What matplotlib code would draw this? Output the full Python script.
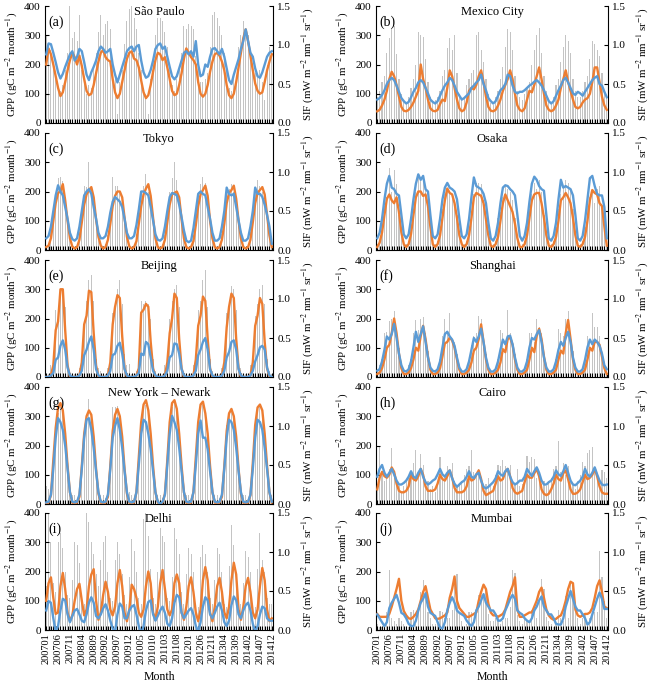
import numpy as np
import matplotlib
matplotlib.use("Agg")
import matplotlib.pyplot as plt

plt.rcParams['font.family'] = ['Liberation Serif', 'DejaVu Serif']
plt.rcParams['mathtext.fontset'] = 'stix'

tick_labels = ['200701', '200706', '200711', '200804', '200809', '200902', '200907',
               '200912', '201005', '201010', '201103', '201108', '201201', '201206',
               '201211', '201304', '201309', '201402', '201407', '201412']

cities = ['São Paulo', 'Mexico City', 'Tokyo', 'Osaka', 'Beijing', 'Shanghai',
          'New York – Newark', 'Cairo', 'Delhi', 'Mumbai']
letters = ['(a)', '(b)', '(c)', '(d)', '(e)', '(f)', '(g)', '(h)', '(i)', '(j)']

# ---------------- São Paulo ----------------
gpp_a = [200,255,235,200,160,120, 92,105,140,180,215,240,
         225,200,230,195,150,110, 95,100,130,170,210,240,
         250,225,215,210,150,105, 85,100,140,180,220,240,
         245,220,215,190,145,105, 85, 95,130,175,215,240,
         235,215,225,190,150,110, 95,100,130,170,220,255,
         240,225,215,200,140,100, 90,100,130,175,210,235,
         240,230,210,180,130, 95, 85,100,140,190,240,290,
         320,280,230,180,135,110,100,105,140,180,210,235]
sif_a = [0.88,1.02,1.01,0.90,0.78,0.65,0.57,0.63,0.72,0.80,0.88,0.92,
         0.80,0.85,0.95,0.92,0.78,0.62,0.55,0.65,0.72,0.80,0.92,0.98,
         0.95,0.90,0.92,0.95,0.75,0.62,0.52,0.62,0.72,0.82,0.92,0.96,
         0.98,0.92,0.98,1.00,0.80,0.65,0.58,0.60,0.68,0.80,0.95,1.00,
         1.02,0.95,0.98,0.85,0.72,0.60,0.56,0.60,0.70,0.80,0.90,0.92,
         0.88,0.92,0.85,1.05,0.75,0.60,0.62,0.75,0.72,0.85,0.95,0.96,
         0.92,0.88,0.95,0.85,0.70,0.55,0.50,0.62,0.72,0.82,0.95,1.05,
         1.20,1.05,0.90,0.85,0.70,0.60,0.58,0.65,0.75,0.85,0.90,0.92]
bar_a = [300,270,250,200,150,120,110,130,180,240,400,290,
         310,280,370,180,160,100,130,120,200,240,310,370,
         300,340,350,320,200,150, 30,140,180,270,350,390,
         400,360,320,240,180,120,100, 30,150,230,300,360,
         360,350,310,260,180,130,110,150,180,240,330,320,
         340,330,320,230,200,140,140,150,170,260,370,380,
         360,330,300,240,180,120,110,150,160,260,300,350,
         320,300,250,200,170,160,180,140, 80,200,260,240]

# ---------------- Mexico City ----------------
gpp_b = [ 40, 45, 60, 80,110,150,175,160,130, 90, 55, 42,
          40, 45, 55, 70, 90,110,200,150,120, 80, 50, 42,
          40, 45, 65, 80, 75,120,180,160,120, 80, 50, 40,
          45, 70,110,120,115,130,160,180,140, 90, 55, 42,
          40, 45, 60, 80,110,130,150,180,150,100, 60, 45,
          40, 50, 80,110,105,130,160,190,150,100, 60, 45,
          40, 45, 60, 80,120,150,180,140,110, 80, 55, 50,
          55, 70, 80, 85,100,140,190,190,140, 90, 60, 45]
sif_b = [0.30,0.32,0.36,0.42,0.50,0.55,0.58,0.55,0.48,0.40,0.32,0.28,
         0.25,0.27,0.33,0.40,0.45,0.52,0.55,0.52,0.45,0.38,0.30,0.27,
         0.25,0.28,0.35,0.42,0.48,0.52,0.58,0.55,0.48,0.40,0.35,0.30,
         0.32,0.35,0.38,0.45,0.48,0.52,0.55,0.62,0.50,0.42,0.32,0.28,
         0.25,0.28,0.35,0.42,0.45,0.50,0.62,0.60,0.48,0.40,0.38,0.40,
         0.40,0.42,0.45,0.48,0.50,0.53,0.55,0.52,0.48,0.42,0.35,0.28,
         0.25,0.28,0.35,0.42,0.48,0.55,0.58,0.52,0.45,0.38,0.36,0.40,
         0.38,0.35,0.40,0.45,0.50,0.55,0.58,0.60,0.50,0.48,0.40,0.33]
bar_b = [ 90,110,140,160,240,290,320,330,235,150,100, 80,
          70, 90,120,150,200,310,300,295,220,140, 90, 70,
          80, 90,110,160,180,255,290,250,300,170,100, 80,
          90,130,150,170,180,300,310,250,210,150,100, 70,
          60, 90,110,150,190,260,320,310,250,160,110, 90,
          80,100,120,140,200,250,300,325,240,160,110, 80,
          70, 90,130,150,210,260,300,280,240,150,110, 90,
          90,110,140,160,220,280,270,250,230,170,110, 90]

# ---------------- Tokyo ----------------
gpp_c = [ 10, 15, 40,100,160,195,200,225,170,100, 40, 12,
           5, 10, 35, 95,155,190,205,215,180,105, 45, 15,
           5, 10, 35, 90,150,185,200,200,180,110, 45, 12,
           5, 10, 30, 90,150,190,210,225,185,110, 40, 10,
           5, 10, 35, 95,155,190,195,200,180,105, 40, 10,
           5, 10, 30, 85,150,190,205,220,185,100, 40, 10,
           5, 10, 35, 90,160,195,205,220,175,100, 40, 10,
           5, 10, 35, 95,160,195,205,215,190,120, 50, 10]
sif_c = [0.15,0.18,0.30,0.50,0.70,0.83,0.75,0.70,0.55,0.40,0.22,0.14,
         0.12,0.15,0.30,0.50,0.70,0.75,0.78,0.72,0.55,0.40,0.22,0.15,
         0.15,0.18,0.30,0.48,0.62,0.68,0.65,0.62,0.55,0.40,0.22,0.15,
         0.15,0.18,0.32,0.52,0.75,0.75,0.73,0.70,0.55,0.38,0.20,0.13,
         0.12,0.15,0.30,0.50,0.68,0.73,0.72,0.70,0.58,0.42,0.25,0.12,
         0.10,0.12,0.28,0.50,0.72,0.75,0.72,0.70,0.55,0.40,0.22,0.12,
         0.12,0.15,0.30,0.50,0.80,0.72,0.70,0.72,0.55,0.38,0.22,0.12,
         0.12,0.15,0.30,0.50,0.80,0.72,0.72,0.68,0.58,0.45,0.30,0.08]
bar_c = [ 10, 20, 60,110,190,245,250,235,180,110, 50, 15,
          10, 15, 60,120,220,215,300,200,160,100, 40, 15,
          10, 20, 50,120,250,220,220,200,150, 90, 40, 15,
          10, 20, 55,120,200,220,260,200,180,110, 40, 15,
          10, 20, 50,110,200,245,300,240,170,100, 40, 15,
          10, 20, 50,120,200,225,250,230,160,100, 40, 15,
          10, 20, 55,120,200,210,225,200,150,100, 45, 15,
          10, 20, 60,120,210,240,220,200,170,110, 45, 10]

# ---------------- Osaka ----------------
gpp_d = [ 10, 25, 60,120,175,190,170,160,180,130, 60, 20,
          10, 20, 55,120,180,200,200,185,190,150, 80, 20,
          10, 20, 50,110,170,210,195,190,160,110, 50, 20,
          10, 20, 50,110,180,195,190,185,160,105, 50, 15,
          10, 20, 45,100,160,190,170,150,130, 90, 40, 10,
          10, 20, 50,110,170,190,195,195,160,110, 50, 15,
          10, 20, 45,100,170,180,195,180,160,110, 50, 15,
          10, 20, 45,100,170,205,195,190,160,150, 80, 15]
sif_d = [0.15,0.22,0.40,0.65,0.85,0.95,0.80,0.78,0.72,0.70,0.45,0.20,
         0.15,0.20,0.40,0.65,0.85,0.97,0.90,0.95,0.78,0.75,0.45,0.18,
         0.15,0.20,0.40,0.65,0.80,0.86,0.80,0.78,0.75,0.65,0.40,0.18,
         0.15,0.20,0.40,0.68,0.93,0.82,0.80,0.78,0.72,0.60,0.35,0.15,
         0.12,0.18,0.35,0.60,0.80,0.83,0.82,0.78,0.75,0.70,0.45,0.18,
         0.12,0.18,0.35,0.62,0.85,0.94,0.90,0.82,0.78,0.76,0.45,0.15,
         0.12,0.18,0.35,0.65,0.90,0.80,0.82,0.80,0.78,0.70,0.45,0.15,
         0.12,0.18,0.38,0.65,0.92,0.95,0.82,0.72,0.70,0.70,0.55,0.15]
bar_d = [ 20, 30, 90,150,180,280,200,275,225,120, 60, 30,
          20, 30, 80,140,200,250,245,250,215,140, 60, 25,
          20, 30, 80,140,190,205,200,190,170,120, 50, 20,
          20, 30, 80,130,190,230,230,225,170,110, 50, 20,
          20, 30,110,130,180,220,210,200,170,110, 50, 20,
          20, 30, 80,140,190,230,210,240,200,120, 50, 20,
          20, 30, 80,140,190,220,240,230,210,140, 60, 20,
          20, 30, 80,150,180,200,160,210,220,150, 60, 20]

# ---------------- Beijing ----------------
gpp_e = [  0,  0,  5, 40,160,190,300,300,160, 40,  0,  0,
           0,  0,  5, 50,180,210,295,290,150, 40,  0,  0,
           0,  0,  5, 50,180,240,280,270,140, 30,  0,  0,
           0,  0,  5, 30,220,230,250,240,120, 30,  0,  0,
           0,  0,  5, 50,150,200,285,270,130, 30,  0,  0,
           0,  0,  5, 60,175,210,275,260,130, 30,  0,  0,
           0,  0,  5, 50,170,240,285,270,130, 30,  0,  0,
           0,  0,  5, 50,175,210,270,250,120, 30,  0,  0]
sif_e = [0.00,0.00,0.02,0.05,0.22,0.25,0.40,0.47,0.35,0.12,0.02,0.00,
         0.00,0.00,0.02,0.08,0.28,0.35,0.45,0.52,0.35,0.10,0.02,0.00,
         0.00,0.00,0.02,0.08,0.28,0.30,0.40,0.44,0.30,0.10,0.02,0.00,
         0.00,0.00,0.02,0.05,0.30,0.28,0.45,0.42,0.25,0.08,0.02,0.00,
         0.00,0.00,0.02,0.08,0.25,0.28,0.43,0.42,0.30,0.10,0.02,0.00,
         0.00,0.00,0.02,0.08,0.28,0.35,0.45,0.50,0.35,0.10,0.02,0.00,
         0.00,0.00,0.02,0.08,0.25,0.32,0.45,0.47,0.35,0.10,0.02,0.00,
         0.00,0.00,0.02,0.08,0.20,0.28,0.38,0.40,0.35,0.12,0.02,0.00]
bar_e = [  5, 10, 40, 60,230,200,300,295,240, 60, 20,  5,
          10, 10, 30, 60,180,260,330,350,260, 60, 30, 20,
          10, 10, 30, 60,220,240,300,330,250, 80, 40, 45,
          10, 10, 20, 40,260,250,260,250,200, 60, 20, 10,
           5, 10, 40, 60,200,260,300,315,240, 60, 20, 10,
          10, 10, 40, 70,230,260,330,365,240, 60, 20, 10,
          10, 10, 30, 70,220,240,310,300,230, 60, 30, 10,
          10, 10, 40, 70,210,250,300,315,250, 60, 20, 10]

# ---------------- Shanghai ----------------
gpp_f = [ 10, 15, 30, 60,100,110,150,200,150, 80, 30, 10,
          10, 15, 30, 60,100, 90,140,175,130, 70, 25, 10,
          10, 15, 30, 70,115,120,135,125,100, 60, 25, 10,
          10, 15, 25, 50, 90,100,130,180,120, 60, 25, 10,
          10, 15, 25, 50, 95, 85,130,135,110, 60, 25, 10,
          10, 15, 25, 60,100, 85,140,165,130, 70, 25, 10,
          10, 15, 25, 60, 90, 80,150,195,130, 60, 25, 10,
          10, 15, 25, 60,100, 90,120,120,110, 70, 30, 10]
sif_f = [0.08,0.10,0.20,0.35,0.52,0.48,0.55,0.68,0.50,0.30,0.15,0.08,
         0.07,0.10,0.20,0.38,0.58,0.45,0.55,0.65,0.45,0.25,0.12,0.08,
         0.07,0.10,0.20,0.38,0.55,0.58,0.52,0.48,0.40,0.25,0.12,0.07,
         0.07,0.10,0.20,0.35,0.50,0.45,0.52,0.62,0.45,0.25,0.12,0.07,
         0.07,0.10,0.20,0.35,0.48,0.42,0.52,0.53,0.42,0.25,0.12,0.07,
         0.07,0.10,0.20,0.38,0.50,0.48,0.55,0.60,0.45,0.25,0.12,0.07,
         0.07,0.10,0.20,0.35,0.45,0.40,0.50,0.58,0.45,0.25,0.12,0.07,
         0.07,0.10,0.22,0.38,0.48,0.42,0.48,0.45,0.40,0.30,0.15,0.10]
bar_f = [ 20, 40, 60,150,155,190,200,225,160,100, 50, 20,
          20, 40, 60,150,195,160,200,205,150, 90, 40, 20,
          20, 30, 60,140,200,150,220,130,120, 80, 40, 20,
          20, 30, 50,110,140,150,210,200,120, 80, 40, 20,
          20, 30, 60,160,150,120,230,150,120, 80, 40, 20,
          20, 30, 60,150,150,120,200,170,150, 80, 40, 20,
          20, 30, 60,165,150,140,200,225,150, 90, 40, 20,
          20, 30, 60,140,130,220,170,170,140, 80, 40, 20]

# ---------------- New York - Newark ----------------
gpp_g = [  0,  5, 30,150,260,330,345,320,240,130, 40,  5,
           0,  5, 25,130,240,300,320,305,230,120, 35,  5,
           0,  5, 25,130,250,305,325,300,230,120, 35,  5,
           0,  5, 40,160,280,340,355,320,240,130, 40,  5,
           0,  5, 35,150,280,345,355,325,240,130, 40,  5,
           0,  5, 40,160,280,340,350,310,240,130, 40,  5,
           0,  5, 25,130,250,310,325,300,230,120, 35,  5,
           0,  5, 30,140,270,330,340,320,240,130, 40,  5]
sif_g = [0.02,0.03,0.12,0.45,0.85,1.10,1.05,0.95,0.75,0.45,0.15,0.03,
         0.02,0.03,0.12,0.45,0.85,1.08,1.10,0.95,0.72,0.42,0.15,0.03,
         0.02,0.03,0.12,0.45,0.85,1.00,1.10,0.95,0.72,0.42,0.15,0.03,
         0.02,0.03,0.15,0.50,0.90,1.08,1.05,0.90,0.70,0.42,0.15,0.03,
         0.00,0.03,0.12,0.50,0.90,1.13,1.05,0.95,0.72,0.42,0.15,0.03,
         0.02,0.03,0.15,0.50,0.90,1.07,0.85,0.85,0.70,0.42,0.15,0.03,
         0.02,0.03,0.12,0.45,0.85,1.08,1.05,0.95,0.72,0.42,0.15,0.03,
         0.02,0.03,0.12,0.45,0.85,1.08,1.05,0.95,0.72,0.45,0.15,0.03]
bar_g = [ 60, 50, 40,150,250,310,330,320,250,120, 40, 30,
          30, 20, 30,120,240,270,360,300,220,110, 40, 30,
          30, 20, 40,130,330,330,335,310,220,110, 50, 40,
          30, 20, 50,160,280,330,340,320,240,120, 40, 30,
          30, 20, 40,150,280,330,350,320,240,120, 40, 30,
          30, 20, 60,160,280,330,340,300,240,120, 40, 30,
          30, 20, 40,130,270,300,320,310,230,110, 40, 30,
          30, 20, 40,140,270,310,330,320,240,120, 40, 30]

# ---------------- Cairo ----------------
gpp_h = [ 50, 90,110, 95, 90,100,125,110, 70, 45, 40, 40,
          45, 60,100, 85, 80, 95,120,100, 60, 45, 45, 45,
          50, 70,100, 85, 80, 95,115, 90, 55, 40, 40, 40,
          45, 60, 95, 80, 85,100,115, 85, 45, 30, 35, 40,
          45, 70, 95, 80, 85,110,120, 95, 55, 40, 35, 40,
          45, 75,100, 90, 90,105,120, 95, 50, 35, 30, 35,
          50, 70,100, 85, 80,105,115, 85, 50, 35, 35, 40,
          50, 75,100, 85, 90,100,120, 95, 60, 40, 35, 35]
sif_h = [0.35,0.45,0.50,0.40,0.35,0.40,0.45,0.38,0.30,0.25,0.25,0.27,
         0.30,0.35,0.42,0.35,0.33,0.40,0.45,0.35,0.28,0.25,0.27,0.30,
         0.32,0.38,0.45,0.38,0.35,0.40,0.43,0.33,0.26,0.22,0.25,0.28,
         0.30,0.35,0.42,0.35,0.33,0.38,0.40,0.30,0.22,0.20,0.22,0.25,
         0.28,0.33,0.42,0.38,0.36,0.42,0.45,0.35,0.28,0.25,0.27,0.30,
         0.30,0.35,0.45,0.40,0.36,0.42,0.47,0.40,0.30,0.25,0.25,0.28,
         0.30,0.35,0.43,0.38,0.36,0.42,0.50,0.40,0.30,0.25,0.24,0.27,
         0.30,0.35,0.45,0.38,0.35,0.40,0.47,0.38,0.30,0.25,0.24,0.25]
bar_h = [ 70,195,110, 80, 90,120,190,110, 90, 60, 40, 60,
          80, 90,100,140,185, 90,170,135, 60, 80, 50, 60,
          40, 75,160, 90, 95,130,110,140, 80, 60, 70, 80,
         100,120,130,185,110,100,120, 80, 60, 70, 90, 60,
          60,100,135,130,150,130,120,135, 80, 70,120, 60,
          70, 90,165,145,160,155, 90,100, 70, 80, 60, 80,
          90,120,130,215,110,140,100,130, 80, 70, 50, 80,
         100,145,130,175,185,195,110, 80, 70,115,110, 90]

# ---------------- Delhi ----------------
gpp_i = [100,160,180,110, 55, 60,150,195,140, 60, 30, 50,
         100,140,158,100, 50, 70,150,190,208,100, 35, 60,
         120,165,130, 70, 50, 80,160,205,150, 60, 30, 70,
         155,140,110, 60, 45, 70,150,200,160, 60, 35, 80,
         160,205,140, 70, 50, 70,160,190,160, 60, 35, 80,
         150,180,130, 60, 30, 70,170,215,170, 60, 30, 80,
         150,178,130, 60, 40, 80,170,230,190, 70, 35, 80,
         150,178,130, 60, 40, 70,150,212,170, 70, 30, 40]
sif_i = [0.25,0.37,0.35,0.15,-0.02,0.05,0.25,0.40,0.38,0.20,0.10,0.18,
         0.25,0.27,0.20,0.12,0.10,0.20,0.35,0.42,0.35,0.18,0.15,0.20,
         0.28,0.33,0.25,0.12,0.02,-0.03,0.20,0.34,0.30,0.15,0.15,0.25,
         0.30,0.32,0.20,0.05,-0.05,0.05,0.25,0.36,0.38,0.20,0.12,0.18,
         0.25,0.30,0.22,0.08,0.05,0.15,0.35,0.45,0.42,0.22,0.15,0.20,
         0.25,0.28,0.20,0.05,-0.02,0.10,0.30,0.42,0.38,0.20,0.15,0.22,
         0.30,0.35,0.25,0.10,0.05,0.12,0.32,0.43,0.38,0.20,0.15,0.25,
         0.32,0.35,0.25,0.08,-0.02,0.05,0.20,0.30,0.28,0.15,0.12,0.12]
bar_i = [150,400,300,160,130,300,330,280,200,120,110,170,
         300,290,230,100, 90,400,370,300,260,190,150,240,
         300,320,200,110,100,240,300,260,190,120, 90,180,
         310,270,200,110, 90,380,420,320,210,110, 90,200,
         350,320,300,110,100,180,350,310,260,130, 90,190,
         280,260,200, 90, 80,250,290,260,200,110, 90,170,
         280,260,200, 90, 80,220,360,290,200,110, 90,160,
         270,250,200, 90, 80,210,330,240,200,110, 90, 90]

# ---------------- Mumbai ----------------
gpp_j = [ 55, 45, 45, 45, 45, 55, 80,110,140,175,100, 65,
          50, 40, 38, 45, 55, 70,100,130,150,110, 70, 55,
          40, 38, 40, 45, 50, 60,110,140,183,100, 75, 65,
          55, 45, 45, 50, 55, 60,100,130,155,140, 90, 60,
          50, 50, 45, 50, 55, 70,100,130,150,180, 70, 45,
          45, 50, 55, 60, 60, 80,100,130,145,110, 70, 50,
          40, 35, 38, 45, 50, 70,100,140,165,160, 70, 50,
          45, 50, 55, 55, 60, 75,110,150,170,130, 80, 75]
sif_j = [0.20,0.15,0.10,0.05,0.10,0.28,0.35,0.40,0.45,0.35,0.22,0.20,
         0.15,0.08,0.05,0.05,0.12,0.25,0.35,0.40,0.47,0.30,0.22,0.20,
         0.18,0.10,0.03,0.02,0.10,0.25,0.35,0.42,0.35,0.25,0.22,0.20,
         0.18,0.12,0.08,0.05,0.10,0.25,0.30,0.38,0.46,0.35,0.30,0.25,
         0.25,0.20,0.12,0.12,0.15,0.25,0.32,0.40,0.45,0.40,0.25,0.22,
         0.20,0.15,0.12,0.10,0.15,0.25,0.30,0.38,0.43,0.30,0.25,0.20,
         0.20,0.15,0.08,0.07,0.07,0.15,0.30,0.40,0.50,0.40,0.30,0.25,
         0.25,0.20,0.15,0.07,0.10,0.20,0.30,0.40,0.48,0.40,0.27,0.27]
bar_j = [ 20, 10, 10, 20, 60,205, 40, 30, 20, 40, 30, 20,
          10, 10, 60, 70, 20, 80,130,170,130, 60, 40, 20,
          20, 30, 65, 60, 40, 40, 40, 70,185,190, 60, 30,
          10, 20, 60, 60, 30, 60,120,120,110,140, 55, 30,
          30, 40, 40, 20, 30, 40, 40, 80,205,195, 50, 30,
          20, 40, 30, 30, 70, 70, 40,100,175,140, 45, 30,
          20, 10, 20, 70, 40, 30,115, 40,160,160, 60, 40,
          20, 40, 50, 20, 40, 50, 60, 60,270,180,100, 40]

gpp_all = [gpp_a, gpp_b, gpp_c, gpp_d, gpp_e, gpp_f, gpp_g, gpp_h, gpp_i, gpp_j]
sif_all = [sif_a, sif_b, sif_c, sif_d, sif_e, sif_f, sif_g, sif_h, sif_i, sif_j]
bar_all = [bar_a, bar_b, bar_c, bar_d, bar_e, bar_f, bar_g, bar_h, bar_i, bar_j]

ORANGE = '#ED7D31'
BLUE = '#5B9BD5'
GRAY = '#C4C4C4'

W, H = 652, 685
fig = plt.figure(figsize=(W / 100, H / 100), dpi=100)

col_x = [(45, 273), (376, 608)]
row_top = [6, 133, 260, 387, 513]
ax_h = 117

x = np.arange(96)
gpp_label = 'GPP (gC m$^{-2}$ month$^{-1}$)'
sif_label = 'SIF (mW m$^{-2}$ nm$^{-1}$ sr$^{-1}$)'

for k in range(10):
    r, c = divmod(k, 2)
    x0, x1 = col_x[c]
    top = row_top[r]
    ax = fig.add_axes([x0 / W, 1 - (top + ax_h) / H, (x1 - x0) / W, ax_h / H])
    ax.bar(x, bar_all[k], width=0.45, color=GRAY, zorder=1, linewidth=0)
    ax.plot(x, gpp_all[k], color=ORANGE, lw=1.7, zorder=3, solid_joinstyle='round')
    ax.set_ylim(0, 400)
    ax.set_xlim(-0.5, 95.5)
    ax.set_yticks([0, 100, 200, 300, 400])
    ax.set_xticks(x)
    if r == 4:
        labs = ['' for _ in x]
        for j, t in enumerate(tick_labels):
            labs[j * 5] = t
        ax.set_xticklabels(labs, rotation=90, fontsize=7.5)
        ax.set_xlabel('Month', fontsize=8.5, labelpad=5)
    else:
        ax.set_xticklabels([])
    ax.tick_params(axis='x', direction='in', length=3, width=0.8, pad=2)
    ax.tick_params(axis='y', direction='in', length=3, width=0.8, labelsize=8, pad=3)
    ax.spines['top'].set_visible(False)
    ax.spines['right'].set_visible(False)
    for s in ['left', 'bottom']:
        ax.spines[s].set_linewidth(0.8)
    ax.set_ylabel(gpp_label, fontsize=7.8, labelpad=4)
    ax.text(0.5, 0.95, cities[k], transform=ax.transAxes, ha='center', va='center', fontsize=9)
    ax.text(0.015, 0.86, letters[k], transform=ax.transAxes, ha='left', va='center', fontsize=10)

    ax2 = ax.twinx()
    ax2.plot(x, sif_all[k], color=BLUE, lw=1.7, zorder=4, solid_joinstyle='round')
    ax2.set_ylim(0, 1.5)
    ax2.set_yticks([0.0, 0.5, 1.0, 1.5])
    ax2.set_yticklabels(['0.0', '0.5', '1.0', '1.5'])
    ax2.tick_params(axis='y', direction='in', length=3, width=0.8, labelsize=8, pad=3)
    for s in ['top', 'left', 'bottom']:
        ax2.spines[s].set_visible(False)
    ax2.spines['right'].set_linewidth(0.8)
    ax2.set_ylabel(sif_label, fontsize=7.8, labelpad=6)

fig.savefig('out.png', dpi=100)
